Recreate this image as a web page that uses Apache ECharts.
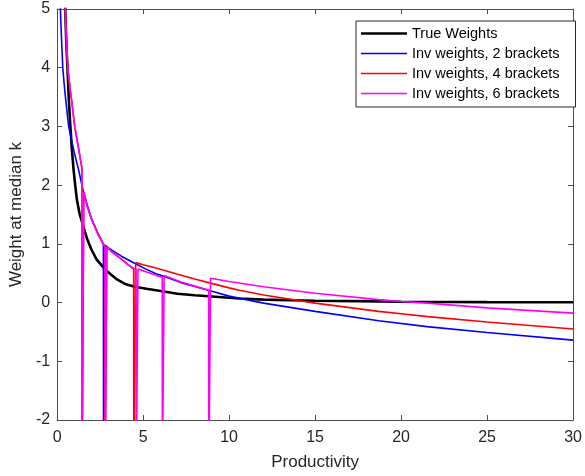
<!DOCTYPE html>
<html>
<head>
<meta charset="utf-8">
<script src="https://cdn.jsdelivr.net/npm/echarts@6/dist/echarts.min.js"></script>
<style>html,body{margin:0;padding:0;background:#fff}#c{width:585px;height:476px}</style>
</head>
<body>
<div id="c"></div>
<script>
var FONT = '"Liberation Sans", Arial, Helvetica, sans-serif';
var seriesNames = ['True Weights', 'Inv weights, 2 brackets', 'Inv weights, 4 brackets', 'Inv weights, 6 brackets'];
var xTicks = [0, 5, 10, 15, 20, 25, 30];
var yTicks = [-2, -1, 0, 1, 2, 3, 4, 5];

var trueX = [0.40, 0.47, 0.53, 0.60, 0.68, 0.77, 0.86, 0.96, 1.05, 1.15, 1.30, 1.53, 1.75, 2.0, 2.3, 2.8, 3.2, 3.5, 4.0, 4.5, 5.2, 5.75, 7.0, 8.0, 9.2, 10.6, 12, 15, 18.7, 20, 25, 30];
var trueY = [6.0, 5.0, 4.45, 4.0, 3.45, 3.0, 2.6, 2.25, 2.0, 1.75, 1.52, 1.29, 1.08, 0.9, 0.73, 0.56, 0.46, 0.39, 0.31, 0.27, 0.235, 0.21, 0.15, 0.125, 0.10, 0.07, 0.05, 0.03, 0.02, 0.015, 0.008, 0.005];

var inv2X = [0.15, 0.19, 0.26, 0.33, 0.40, 0.50, 0.67, 0.85, 1.0, 1.25, 1.5, 1.75, 2.0, 2.4, 2.69, 2.70, 2.77, 2.78, 3.2, 3.74, 4.5, 5.17, 5.75, 6.2, 7.2, 8.8, 10, 12, 15, 18.7, 21.5, 25, 30];
var inv2Y = [5.5, 5.0, 4.45, 4.0, 3.75, 3.45, 3.0, 2.75, 2.55, 2.26, 1.92, 1.66, 1.43, 1.16, 0.99, -3, -3, 0.98, 0.89, 0.79, 0.67, 0.57, 0.49, 0.45, 0.34, 0.21, 0.11, -0.01, -0.15, -0.31, -0.41, -0.51, -0.64];

var inv4X = [0.40, 0.47, 0.55, 0.62, 0.75, 0.86, 1.02, 1.25, 1.44, 1.45, 1.54, 1.55, 1.75, 2.0, 2.4, 2.78, 2.79, 2.88, 2.89, 3.2, 3.74, 4.1, 4.45, 4.46, 4.56, 4.57, 5.0, 5.75, 6.9, 8.0, 9.2, 10, 10.6, 12, 15, 18.7, 20, 21.55, 25, 30];
var inv4Y = [5.6, 5.0, 4.4, 4.0, 3.65, 3.4, 3.0, 2.62, 2.29, -3, -3, 1.88, 1.64, 1.42, 1.15, 0.95, -3, -3, 0.95, 0.86, 0.74, 0.65, 0.57, -3, -3, 0.68, 0.645, 0.59, 0.49, 0.40, 0.31, 0.25, 0.21, 0.13, -0.01, -0.15, -0.19, -0.24, -0.33, -0.45];

var inv6X = [0.40, 0.47, 0.55, 0.62, 0.75, 0.86, 1.02, 1.25, 1.44, 1.45, 1.54, 1.55, 1.75, 2.0, 2.4, 2.78, 2.79, 2.88, 2.89, 3.2, 3.74, 4.1, 4.59, 4.60, 4.69, 4.70, 5.2, 5.7, 6.11, 6.12, 6.21, 6.22, 7.2, 8.0, 8.81, 8.82, 8.91, 8.92, 10, 12, 15, 18.7, 20, 21.55, 25, 30];
var inv6Y = [5.6, 5.0, 4.4, 4.0, 3.65, 3.4, 3.0, 2.62, 2.29, -3, -3, 1.88, 1.64, 1.42, 1.15, 0.95, -3, -3, 0.95, 0.86, 0.74, 0.65, 0.555, -3, -3, 0.57, 0.52, 0.47, 0.43, -3, -3, 0.46, 0.35, 0.28, 0.21, -3, -3, 0.415, 0.36, 0.27, 0.16, 0.05, 0.017, -0.01, -0.09, -0.18];

function pairs(xs, ys) { return xs.map(function (x, i) { return [x, ys[i]]; }); }

var axisColor = '#4d4d4d';
var labelColor = '#262626';

function mkLine(name, xs, ys, color, width, z) {
  return {
    name: name, type: 'line', data: pairs(xs, ys), symbol: 'none', showSymbol: false,
    smooth: false, clip: true, z: z, animation: false,
    lineStyle: { color: color, width: width }, itemStyle: { color: color }
  };
}

var thinIcon = 'path://M0,0H46V1.6H0Z';
var thickIcon = 'path://M0,0H46V2.6H0Z';

var chart = echarts.init(document.getElementById('c'), null, { renderer: 'canvas' });
chart.setOption({
  animation: false,
  backgroundColor: '#fff',
  grid: { left: 55, right: 8, top: 9, bottom: 56, containLabel: false },
  legend: {
    data: [
      { name: seriesNames[0], icon: thickIcon },
      { name: seriesNames[1], icon: thinIcon },
      { name: seriesNames[2], icon: thinIcon },
      { name: seriesNames[3], icon: thinIcon }
    ],
    orient: 'vertical', left: 356, top: 21,
    itemWidth: 46, itemHeight: 14, itemGap: 5,
    padding: [5, 16, 6, 5],
    borderColor: '#262626', borderWidth: 1, backgroundColor: '#fff',
    textStyle: { fontFamily: FONT, fontSize: 14.5, color: '#000' }
  },
  xAxis: [{
    type: 'value', min: 0, max: 30, interval: 5, position: 'bottom',
    name: 'Productivity', nameLocation: 'middle', nameGap: 34,
    nameTextStyle: { fontFamily: FONT, fontSize: 17, color: labelColor },
    axisLine: { show: true, onZero: false, lineStyle: { color: axisColor, width: 1 } },
    axisTick: { show: true, inside: true, length: 5, lineStyle: { color: axisColor } },
    axisLabel: { fontFamily: FONT, fontSize: 16, color: labelColor, margin: 10,
      formatter: function (v) { return xTicks.indexOf(v) >= 0 ? String(v) : ''; } },
    splitLine: { show: false }
  }, {
    type: 'value', min: 0, max: 30, interval: 5, position: 'top',
    axisLine: { show: true, onZero: false, lineStyle: { color: axisColor, width: 1 } },
    axisTick: { show: true, inside: true, length: 5, lineStyle: { color: axisColor } },
    axisLabel: { show: false }, splitLine: { show: false }
  }],
  yAxis: [{
    type: 'value', min: -2, max: 5, interval: 1, position: 'left',
    name: 'Weight at median k', nameLocation: 'middle', nameGap: 26,
    nameTextStyle: { fontFamily: FONT, fontSize: 17, color: labelColor },
    axisLine: { show: true, onZero: false, lineStyle: { color: axisColor, width: 1 } },
    axisTick: { show: true, inside: true, length: 5, lineStyle: { color: axisColor } },
    axisLabel: { fontFamily: FONT, fontSize: 16, color: labelColor, margin: 7,
      formatter: function (v) { return yTicks.indexOf(v) >= 0 ? String(v) : ''; } },
    splitLine: { show: false }
  }, {
    type: 'value', min: -2, max: 5, interval: 1, position: 'right',
    axisLine: { show: true, onZero: false, lineStyle: { color: axisColor, width: 1 } },
    axisTick: { show: true, inside: true, length: 5, lineStyle: { color: axisColor } },
    axisLabel: { show: false }, splitLine: { show: false }
  }],
  series: [
    mkLine(seriesNames[0], trueX, trueY, '#000000', 2.6, 2),
    mkLine(seriesNames[1], inv2X, inv2Y, '#0000ff', 1.6, 3),
    mkLine(seriesNames[2], inv4X, inv4Y, '#ff0000', 1.6, 4),
    mkLine(seriesNames[3], inv6X, inv6Y, '#ff00ff', 1.6, 5)
  ]
});
</script>
</body>
</html>
